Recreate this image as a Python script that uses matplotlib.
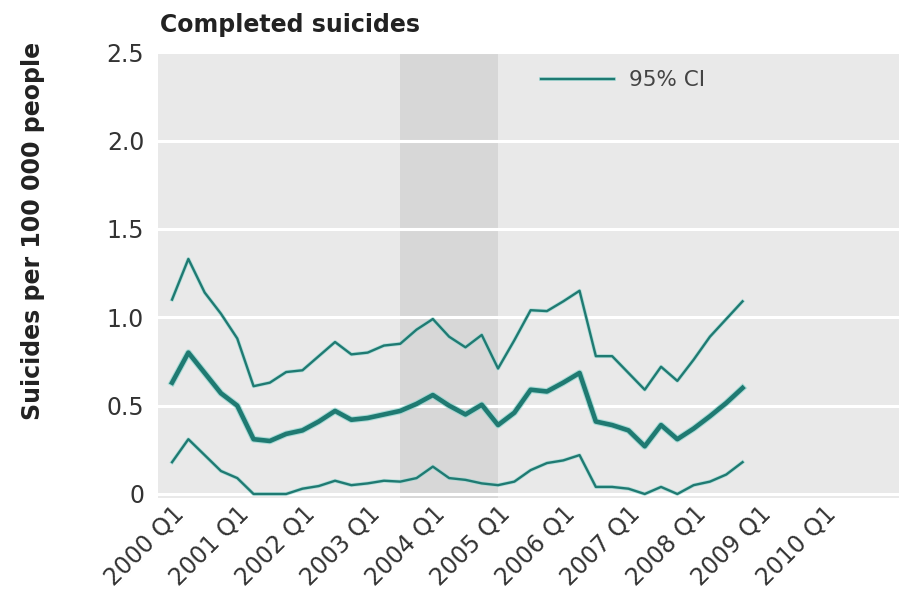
import matplotlib.pyplot as plt
import matplotlib.patheffects as pe
import matplotlib.transforms as mtransforms
import numpy as np

plt.rcParams['font.family'] = ['DejaVu Sans']

# quarterly rates, 2000 Q1 .. 2008 Q4
estimate = [0.63, 0.80, 0.685, 0.57, 0.50, 0.31, 0.30, 0.34, 0.36, 0.41, 0.47, 0.42,
            0.43, 0.45, 0.47, 0.51, 0.56, 0.50, 0.45, 0.505, 0.39, 0.46, 0.59, 0.58,
            0.63, 0.685, 0.41, 0.39, 0.36, 0.27, 0.39, 0.31, 0.37, 0.44, 0.515, 0.60]
ci_upper = [1.10, 1.33, 1.14, 1.02, 0.88, 0.61, 0.63, 0.69, 0.70, 0.78, 0.86, 0.79,
            0.80, 0.84, 0.85, 0.93, 0.99, 0.89, 0.83, 0.90, 0.71, 0.87, 1.04, 1.035,
            1.09, 1.15, 0.78, 0.78, 0.685, 0.59, 0.72, 0.64, 0.76, 0.89, 0.99, 1.09]
ci_lower = [0.18, 0.31, 0.22, 0.13, 0.09, 0.0, 0.0, 0.0, 0.03, 0.045, 0.075, 0.05,
            0.06, 0.075, 0.07, 0.09, 0.155, 0.09, 0.08, 0.06, 0.05, 0.07, 0.135, 0.175,
            0.19, 0.22, 0.04, 0.04, 0.03, 0.0, 0.04, 0.0, 0.05, 0.07, 0.11, 0.18]
tick_labels = ['2000 Q1', '2001 Q1', '2002 Q1', '2003 Q1', '2004 Q1', '2005 Q1',
               '2006 Q1', '2007 Q1', '2008 Q1', '2009 Q1', '2010 Q1']
ytick_vals = [0, 0.5, 1.0, 1.5, 2.0, 2.5]
ytick_labels = ['0', '0.5', '1.0', '1.5', '2.0', '2.5']
shade_start, shade_end = 14, 20  # 2003 Q3 .. 2005 Q1

teal = '#1f7a72'
halo = '#8fd6cf'

fig = plt.figure(figsize=(8.99, 5.93), dpi=100)
ax = fig.add_axes([0.1758, 0.161, 0.8242, 0.751])
ax.set_facecolor('#e9e9e9')

x = np.arange(len(estimate))
ax.axvspan(shade_start, shade_end, color='#d7d7d7', lw=0, zorder=0.2)

ax.plot(x, ci_upper, color=teal, lw=1.7, label='95% CI',
        path_effects=[pe.Stroke(linewidth=2.8, foreground=halo, alpha=0.6), pe.Normal()])
ax.plot(x, ci_lower, color=teal, lw=1.7,
        path_effects=[pe.Stroke(linewidth=2.8, foreground=halo, alpha=0.6), pe.Normal()])
ax.plot(x, estimate, color=teal, lw=3.3,
        path_effects=[pe.Stroke(linewidth=4.8, foreground=halo, alpha=0.7), pe.Normal()])

ax.set_xlim(-0.86, 44.6)
ax.set_ylim(-0.02, 2.5)
ax.set_xticks(np.arange(0, 41, 4))
ax.set_xticklabels(tick_labels, rotation=45, ha='right', va='top',
                   rotation_mode='anchor', fontsize=17, color='#333333')
shift = mtransforms.ScaledTranslation(8 / 100, 0, fig.dpi_scale_trans)
for lab in ax.get_xticklabels():
    lab.set_transform(lab.get_transform() + shift)
ax.set_yticks(ytick_vals)
ax.set_yticklabels(ytick_labels, fontsize=17, color='#333333')
ax.tick_params(length=0, pad=10)
ax.tick_params(axis='x', pad=3)

ax.set_axisbelow(True)
ax.yaxis.grid(True, color='white', lw=2.2)
for s in ax.spines.values():
    s.set_visible(False)

ax.set_ylabel('Suicides per 100 000 people', fontsize=17, fontweight='bold',
              color='#222222')
ax.yaxis.set_label_coords(-0.153, 0.598)
fig.text(0.178, 0.957, 'Completed suicides', fontsize=17, fontweight='bold',
         color='#222222', va='center', ha='left')

ax.legend(loc='center left', bbox_to_anchor=(0.517, 0.937), frameon=False,
          fontsize=15.5, handlelength=3.4, handletextpad=0.7, borderpad=0,
          borderaxespad=0, labelcolor='#444444')

fig.savefig('out.png', dpi=100)
